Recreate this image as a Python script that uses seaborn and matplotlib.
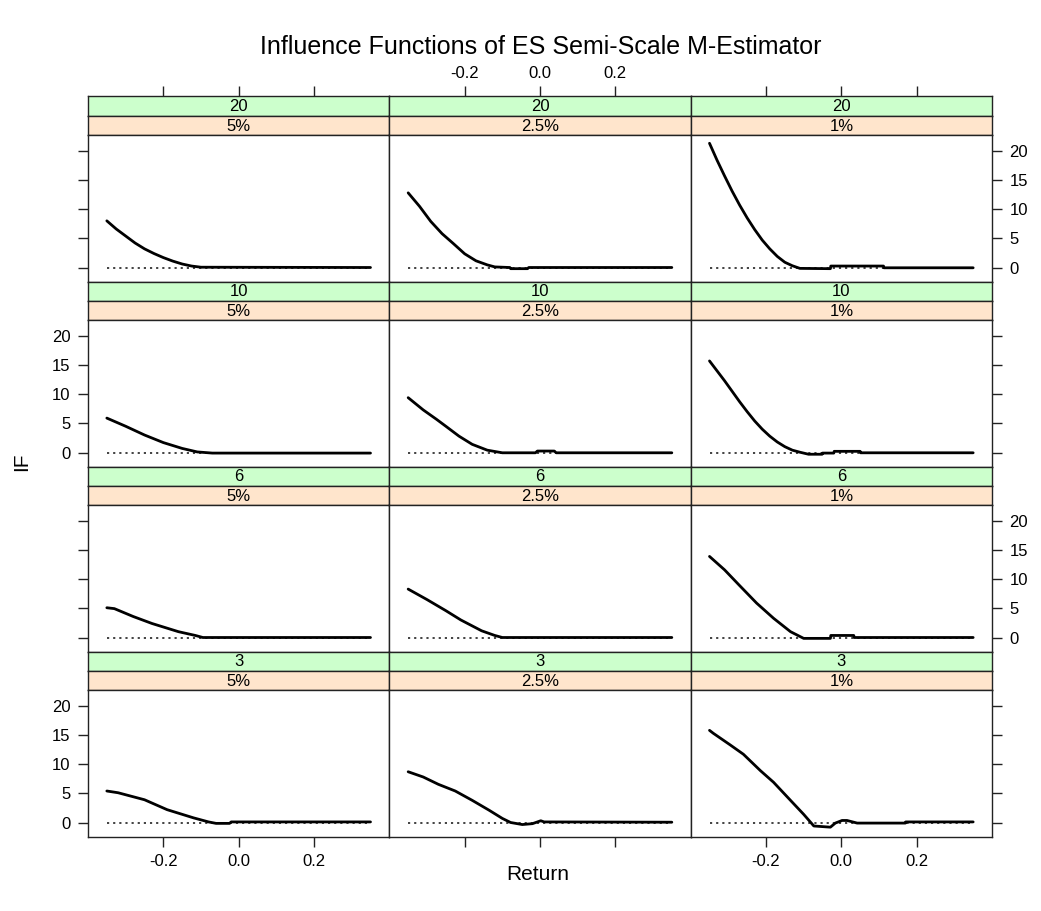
import numpy as np
import pandas as pd
import matplotlib
matplotlib.use("Agg")
import matplotlib.pyplot as plt
import seaborn as sns

# ---------------- data ----------------
dfs = ["20", "10", "6", "3"]           # rows, top to bottom
alphas = ["5%", "2.5%", "1%"]          # columns, left to right

ret_20_5 = [-0.35, -0.325, -0.30, -0.275, -0.25, -0.225, -0.20, -0.175, -0.15, -0.125, -0.10, 0.35]
if_20_5 = [8.0, 6.6, 5.4, 4.2, 3.2, 2.4, 1.7, 1.1, 0.6, 0.25, 0.05, 0.0]

ret_20_25 = [-0.35, -0.32, -0.29, -0.26, -0.23, -0.20, -0.17, -0.14, -0.12, -0.08, -0.078, -0.033, -0.03, 0.35]
if_20_25 = [12.8, 10.5, 7.9, 5.8, 4.1, 2.35, 1.15, 0.45, 0.1, 0.0, -0.2, -0.2, 0.0, 0.0]

ret_20_1 = [-0.35, -0.33, -0.31, -0.29, -0.27, -0.25, -0.23, -0.21, -0.19, -0.17, -0.15, -0.13, -0.11,
            -0.029, -0.028, 0.112, 0.113, 0.35]
if_20_1 = [21.3, 18.4, 15.7, 13.1, 10.7, 8.5, 6.5, 4.7, 3.2, 1.9, 0.9, 0.3, -0.15,
           -0.2, 0.25, 0.25, -0.05, -0.05]

ret_10_5 = [-0.35, -0.30, -0.25, -0.20, -0.15, -0.11, -0.07, 0.35]
if_10_5 = [5.9, 4.5, 3.0, 1.7, 0.7, 0.1, -0.1, -0.1]

ret_10_25 = [-0.35, -0.31, -0.275, -0.25, -0.215, -0.18, -0.14, -0.10, -0.012, -0.007, 0.038, 0.043, 0.35]
if_10_25 = [9.4, 7.3, 5.7, 4.5, 2.8, 1.4, 0.4, -0.05, -0.05, 0.25, 0.25, -0.05, -0.05]

ret_10_1 = [-0.35, -0.33, -0.31, -0.29, -0.27, -0.25, -0.23, -0.21, -0.19, -0.17, -0.15, -0.13, -0.11,
            -0.087, -0.051, -0.05, -0.02, -0.019, 0.05, 0.051, 0.35]
if_10_1 = [15.7, 14.0, 12.3, 10.5, 8.7, 7.0, 5.4, 4.0, 2.8, 1.8, 1.0, 0.4, 0.05,
           -0.3, -0.3, -0.1, -0.1, 0.2, 0.2, -0.05, -0.05]

ret_6_5 = [-0.35, -0.33, -0.28, -0.23, -0.16, -0.115, -0.095, 0.35]
if_6_5 = [5.1, 4.95, 3.6, 2.4, 1.0, 0.35, 0.0, 0.0]

ret_6_25 = [-0.35, -0.30, -0.25, -0.21, -0.155, -0.12, -0.10, 0.35]
if_6_25 = [8.3, 6.5, 4.6, 3.0, 1.15, 0.35, 0.0, 0.0]

ret_6_1 = [-0.35, -0.31, -0.27, -0.225, -0.18, -0.135, -0.10, -0.029, -0.028, 0.033, 0.034, 0.35]
if_6_1 = [13.9, 11.6, 8.9, 5.9, 3.3, 1.0, -0.15, -0.15, 0.35, 0.35, 0.0, 0.0]

ret_3_5 = [-0.35, -0.32, -0.25, -0.19, -0.12, -0.08, -0.06, -0.024, -0.02, 0.35]
if_3_5 = [5.4, 5.1, 3.9, 2.2, 0.8, 0.1, -0.15, -0.15, 0.1, 0.1]

ret_3_25 = [-0.35, -0.31, -0.27, -0.225, -0.18, -0.135, -0.10, -0.078, -0.047, -0.02, 0.002, 0.011, 0.35]
if_3_25 = [8.7, 7.8, 6.55, 5.4, 3.8, 2.1, 0.7, 0.0, -0.35, -0.2, 0.3, 0.1, 0.05]

ret_3_1 = [-0.35, -0.34, -0.295, -0.26, -0.215, -0.18, -0.135, -0.10, -0.073, -0.029, -0.016, 0.002, 0.015,
           0.042, 0.17, 0.171, 0.35]
if_3_1 = [15.8, 15.3, 13.3, 11.7, 8.9, 6.9, 3.8, 1.4, -0.6, -0.8, -0.1, 0.35, 0.35,
          -0.1, -0.1, 0.1, 0.1]

x_ticks = [-0.2, 0.0, 0.2]
x_ticklabels = ["-0.2", "0.0", "0.2"]
y_ticks = [0, 5, 10, 15, 20]
y_ticklabels = ["0", "5", "10", "15", "20"]

series = {
    ("20", "5%"): (ret_20_5, if_20_5), ("20", "2.5%"): (ret_20_25, if_20_25), ("20", "1%"): (ret_20_1, if_20_1),
    ("10", "5%"): (ret_10_5, if_10_5), ("10", "2.5%"): (ret_10_25, if_10_25), ("10", "1%"): (ret_10_1, if_10_1),
    ("6", "5%"): (ret_6_5, if_6_5), ("6", "2.5%"): (ret_6_25, if_6_25), ("6", "1%"): (ret_6_1, if_6_1),
    ("3", "5%"): (ret_3_5, if_3_5), ("3", "2.5%"): (ret_3_25, if_3_25), ("3", "1%"): (ret_3_1, if_3_1),
}
frames = []
for (d, a), (r, v) in series.items():
    frames.append(pd.DataFrame({"Return": r, "IF": v, "df": d, "alpha": a}))
data = pd.DataFrame(pd.concat(frames, ignore_index=True))

# ---------------- styling ----------------
sns.set_theme(style="white")
plt.rcParams["font.family"] = ["Liberation Sans", "DejaVu Sans"]

W, H = 1041, 911
fig = plt.figure(figsize=(W / 100, H / 100), dpi=100)
fig.patch.set_facecolor("white")

GREEN = "#CCFFCC"
ORANGE = "#FFE5CC"
EDGE = "#222222"
TICKFS = 12
TLEN = 7
TPAD = 5.5

col_left0 = 88
col_w = (992 - 88) / 3
top0 = 96.5
block = 185
strip_h = 19.3
panel_h = block - 2 * strip_h

xlim = (-0.4, 0.4)
ylim = (-2.4, 22.7)


def add_ax(l, t, w, h):
    return fig.add_axes([l / W, 1 - (t + h) / H, w / W, h / H])


def style_spines(ax):
    for s in ax.spines.values():
        s.set_color(EDGE)
        s.set_linewidth(1.0)
        s.set_visible(True)


for i, d in enumerate(dfs):
    top = top0 + i * block
    for j, a in enumerate(alphas):
        left = col_left0 + j * col_w
        # strips
        s1 = add_ax(left, top, col_w, strip_h)
        s2 = add_ax(left, top + strip_h, col_w, strip_h)
        for s, col, txt in ((s1, GREEN, d), (s2, ORANGE, a)):
            s.set_facecolor(col)
            s.set_xlim(*xlim)
            s.set_ylim(0, 1)
            s.set_yticks([])
            s.set_xticks([])
            style_spines(s)
            s.text(0.5, 0.47, txt, transform=s.transAxes, ha="center", va="center",
                   fontsize=TICKFS, color="black")
        if i == 0:
            s1.set_xticks(x_ticks)
            s1.xaxis.set_ticks_position("top")
            s1.tick_params(axis="x", direction="out", length=TLEN, width=1, color=EDGE,
                           pad=TPAD - 1.2, labelsize=TICKFS, labelcolor="black",
                           top=True, bottom=False, labeltop=(j == 1), labelbottom=False)
            if j == 1:
                s1.set_xticklabels(x_ticklabels)

        # panel
        ax = add_ax(left, top + 2 * strip_h, col_w, panel_h)
        ax.set_facecolor("white")
        sub = data[(data["df"] == d) & (data["alpha"] == a)]
        ax.hlines(0, sub["Return"].min(), sub["Return"].max(), colors="#333333",
                  linestyles=(0, (1.2, 2.2)), linewidth=1.3, zorder=1)
        sns.lineplot(data=sub, x="Return", y="IF", ax=ax, color="black", linewidth=2.0,
                     estimator=None, sort=False, zorder=2)
        ax.set_xlim(*xlim)
        ax.set_ylim(*ylim)
        ax.set_xlabel("")
        ax.set_ylabel("")
        style_spines(ax)
        ax.set_xticks(x_ticks)
        ax.set_xticklabels(x_ticklabels)
        ax.set_yticks(y_ticks)
        ax.set_yticklabels(y_ticklabels)
        bottom_row = (i == len(dfs) - 1)
        ax.tick_params(axis="x", direction="out", length=TLEN, width=1, color=EDGE,
                       pad=TPAD, labelsize=TICKFS, labelcolor="black",
                       bottom=bottom_row, top=False,
                       labelbottom=bottom_row and j != 1, labeltop=False)
        ax.tick_params(axis="y", direction="out", length=TLEN, width=1, color=EDGE,
                       pad=TPAD, labelsize=TICKFS, labelcolor="black",
                       left=(j == 0), right=(j == 2),
                       labelleft=(j == 0 and i % 2 == 1),
                       labelright=(j == 2 and i % 2 == 0))
        ax.grid(False)

fig.text(541 / W, 1 - 47 / H, "Influence Functions of ES Semi-Scale M-Estimator",
         ha="center", va="center", fontsize=18, color="black")
fig.text(538 / W, 1 - 875 / H, "Return", ha="center", va="center", fontsize=15, color="black")
fig.text(22 / W, 1 - 462 / H, "IF", ha="center", va="center", rotation=90, fontsize=15,
         color="black")

fig.savefig("out.png", dpi=100, facecolor="white")
